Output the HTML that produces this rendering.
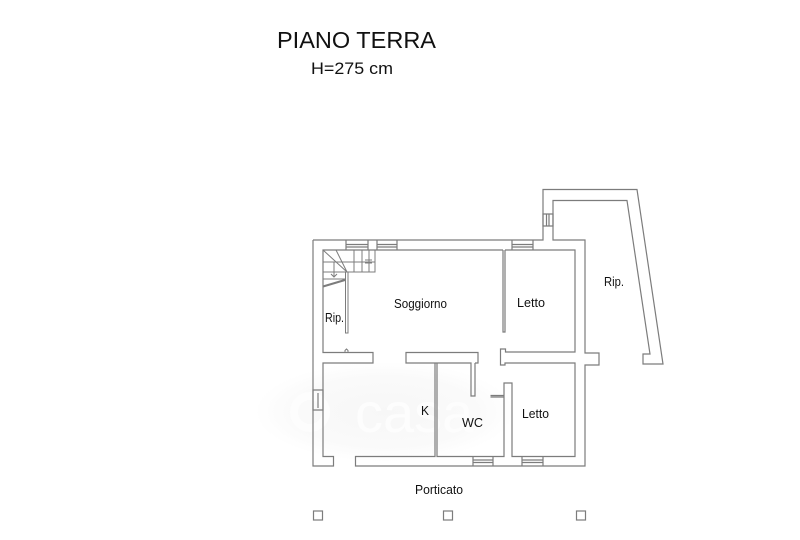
<!DOCTYPE html>
<html><head><meta charset="utf-8"><style>html,body{margin:0;padding:0;background:#fff;width:800px;height:540px;overflow:hidden}svg{display:block}text{font-family:"Liberation Sans",sans-serif;fill:#111}</style></head>
<body><svg width="800" height="540" viewBox="0 0 800 540" xmlns="http://www.w3.org/2000/svg">
<defs><radialGradient id="g" cx="50%" cy="50%" r="50%"><stop offset="0" stop-color="#f7f7f7"/><stop offset="0.7" stop-color="#fafafa"/><stop offset="1" stop-color="#fff"/></radialGradient></defs>
<ellipse cx="385" cy="412" rx="130" ry="50" fill="url(#g)"/>
<circle cx="310" cy="412" r="16" fill="none" stroke="#fdfdfd" stroke-width="8"/>
<text x="355" y="432" font-size="56" style="fill:#fdfdfd">casa</text>
<g fill="none" stroke="#7c7c7c" stroke-width="1.2">
<path d="M313 240V466H333.500V456.500H323V363H373V352.500H323V250H503M503 250V332H505V250M505 250H575V352H505.500V349H500.500V365H505V363H575V456.500H512V383H504V456.500H437V363H471V396H475V363M471 363H406V352.500H478V363H475M490.500 395.500H504M490.500 397H504M435 363V456.500H355.500V466H585V365H599V353H585V240H553V200.500H627L650 354H643V364H663L637 189.500H543V240H313"/>
<path d="M346 240V250M368 240V250M377 240V250M397 240V250M346 244.500H368M346 247H368M377 244.500H397M377 247H397M512 240V250M533 240V250M512 244.500H533M512 247H533M543 214H553V226H543ZM546.500 214V226M549 214V226M313 390H323V410H313ZM318 393V408M473 456.500V466M493 456.500V466M473 460H493M473 462.500H493M522 456.500V466M543 456.500V466M522 460H543M522 462.500H543"/>
<path d="M375 250V272H347M345.500 272V333H348V272M323 272H347M323 279H345M323 262H375M323 250L347 272M336 250L347 272M354 250V272M362 250V272M369 250V272M334 262V277M331 274L334 277L337 274M365 260H372M365 263H372M345 352V350.500L346.500 349L348 350.500V352" stroke-width="1"/>
<path d="M323 286.500L345 280" stroke-width="2"/>
<rect x="313.500" y="511" width="9" height="9"/><rect x="443.500" y="511" width="9" height="9"/><rect x="576.500" y="511" width="9" height="9"/>
</g>
<text x="277" y="48" font-size="23" textLength="159" lengthAdjust="spacingAndGlyphs">PIANO TERRA</text>
<text x="311" y="74" font-size="17" textLength="82" lengthAdjust="spacingAndGlyphs">H=275 cm</text>
<g font-size="12.500">
<text x="394" y="308" textLength="53" lengthAdjust="spacingAndGlyphs">Soggiorno</text>
<text x="517" y="307" textLength="28" lengthAdjust="spacingAndGlyphs">Letto</text>
<text x="604" y="286" textLength="20" lengthAdjust="spacingAndGlyphs">Rip.</text>
<text x="325" y="322" textLength="19" lengthAdjust="spacingAndGlyphs">Rip.</text>
<text x="522" y="418" textLength="27" lengthAdjust="spacingAndGlyphs">Letto</text>
<text x="462" y="427" textLength="21" lengthAdjust="spacingAndGlyphs">WC</text>
<text x="421" y="415" textLength="8" lengthAdjust="spacingAndGlyphs">K</text>
<text x="415" y="494" textLength="48" lengthAdjust="spacingAndGlyphs">Porticato</text>
</g>
</svg></body></html>
